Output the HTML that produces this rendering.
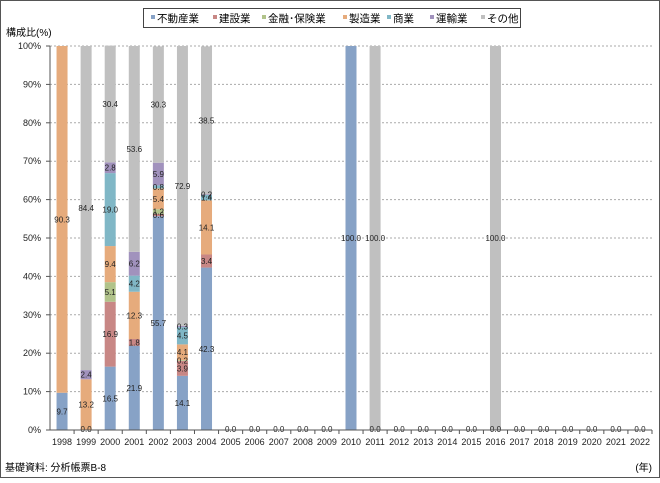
<!DOCTYPE html>
<html><head><meta charset="utf-8"><style>
body{margin:0;background:#fff;}
#c{position:relative;width:660px;height:478px;font-family:"Liberation Sans","Noto Sans CJK JP",sans-serif;}
svg text{font-family:"Liberation Sans","Noto Sans CJK JP",sans-serif;}
</style></head><body>
<div id="c">
<svg id="s" width="660" height="478">
<rect x="0.5" y="0.5" width="659" height="477" fill="#fff" stroke="#555"/>
<text x="6" y="36" font-size="10">構成比(%)</text>
<text x="5" y="471" font-size="10">基礎資料: 分析帳票B-8</text>
<text x="652" y="471" font-size="10" text-anchor="end">(年)</text>
<rect x="143.5" y="8.5" width="377" height="19" fill="#fff" stroke="#444"/>
<g id="leg"></g>
<g id="grid"></g><g id="bars"></g><g id="labels"></g><g id="axes"></g>
</svg>
</div>
<script>
const years=[1998,1999,2000,2001,2002,2003,2004,2005,2006,2007,2008,2009,2010,2011,2012,2013,2014,2015,2016,2017,2018,2019,2020,2021,2022];
const seriesNames=["不動産業","建設業","金融･保険業","製造業","商業","運輸業","その他"];
const colors=["#87a2c6","#c88785","#b1c38a","#e6ab7c","#80b7c6","#a192bd","#c0c0c0"];
const realEstate=[9.7,0,16.5,21.9,55.7,14.1,42.3,0,0,0,0,0,100,0,0,0,0,0,0,0,0,0,0,0,0];
const construction=[0,0,16.9,1.8,0.6,3.9,3.4,0,0,0,0,0,0,0,0,0,0,0,0,0,0,0,0,0,0];
const finance=[0,0,5.1,0,1.2,0.2,0,0,0,0,0,0,0,0,0,0,0,0,0,0,0,0,0,0,0];
const manufacturing=[90.3,13.2,9.4,12.3,5.4,4.1,14.1,0,0,0,0,0,0,0,0,0,0,0,0,0,0,0,0,0,0];
const commerce=[0,0,19.0,4.2,0.8,4.5,1.4,0,0,0,0,0,0,0,0,0,0,0,0,0,0,0,0,0,0];
const transport=[0,2.4,2.8,6.2,5.9,0.3,0.2,0,0,0,0,0,0,0,0,0,0,0,0,0,0,0,0,0,0];
const other=[0,84.4,30.4,53.6,30.3,72.9,38.5,0,0,0,0,0,0,100,0,0,0,0,100,0,0,0,0,0,0];
const yTicks=[0,10,20,30,40,50,60,70,80,90,100];
const series=[realEstate,construction,finance,manufacturing,commerce,transport,other];
const NS="http://www.w3.org/2000/svg";
const X0=50,X1=652,Y0=430,Y1=46,BW=11;
const band=(X1-X0)/years.length;
const xc=i=>X0+band*(i+0.5);
const y=v=>Y0-(Y0-Y1)*v/100;
function mk(t,a,p){const e=document.createElementNS(NS,t);for(const k in a)e.setAttribute(k,a[k]);p.appendChild(e);return e;}
const G=id=>document.getElementById(id);
let lx=151;
const legW=[62,49,81,44,43,51,44];
seriesNames.forEach((n,i)=>{
 const r=mk('rect',{x:lx,y:15,width:4,height:4,fill:colors[i]},G('leg'));
 
 
 const t=mk('text',{x:lx+6,y:22,'font-size':10.5},G('leg'));t.textContent=n;
 
 
 lx+=legW[i];
});
yTicks.forEach(v=>{
 if(v>0){const l=mk('line',{x1:X0,x2:X1,y1:y(v),y2:y(v),stroke:'#aaa','stroke-dasharray':'2,2'},G('grid'));
 
 }
 const t=mk('text',{x:X0-9,y:y(v)+3,'font-size':9,'text-anchor':'end',fill:'#222'},G('axes'));t.textContent=v+'%';
 
 
 mk('line',{x1:X0-4,x2:X0,y1:y(v),y2:y(v),stroke:'#555'},G('axes'));
});
mk('line',{x1:X0,x2:X0,y1:Y1,y2:Y0,stroke:'#555'},G('axes'));
mk('line',{x1:X0,x2:X1,y1:Y0,y2:Y0,stroke:'#555'},G('axes'));
years.forEach((yr,i)=>{
 mk('line',{x1:X0+band*(i+1),x2:X0+band*(i+1),y1:Y0,y2:Y0+4,stroke:'#555'},G('axes'));
 const t=mk('text',{x:xc(i),y:Y0+15,'font-size':9,'text-anchor':'middle',fill:'#222'},G('axes'));t.textContent=yr;
 
 
 let cum=0;
 series.forEach((s,k)=>{
  const v=s[i];
  if(v>0){
   const r=mk('rect',{x:xc(i)-BW/2,y:y(cum+v),width:BW,height:y(cum)-y(cum+v),fill:colors[k]},G('bars'));
   
   
   const t2=mk('text',{x:xc(i),y:y(cum+v/2)+3,'font-size':8,'text-anchor':'middle',fill:'#222'},G('labels'));
   t2.textContent=v.toFixed(1);
   
   
  }
  cum+=v;
 });
 if(realEstate[i]===0){
  const t3=mk('text',{x:xc(i),y:Y0+2,'font-size':8,'text-anchor':'middle',fill:'#222'},G('labels'));
  t3.textContent='0.0';
  
  
 }
});
</script>
</body></html>
